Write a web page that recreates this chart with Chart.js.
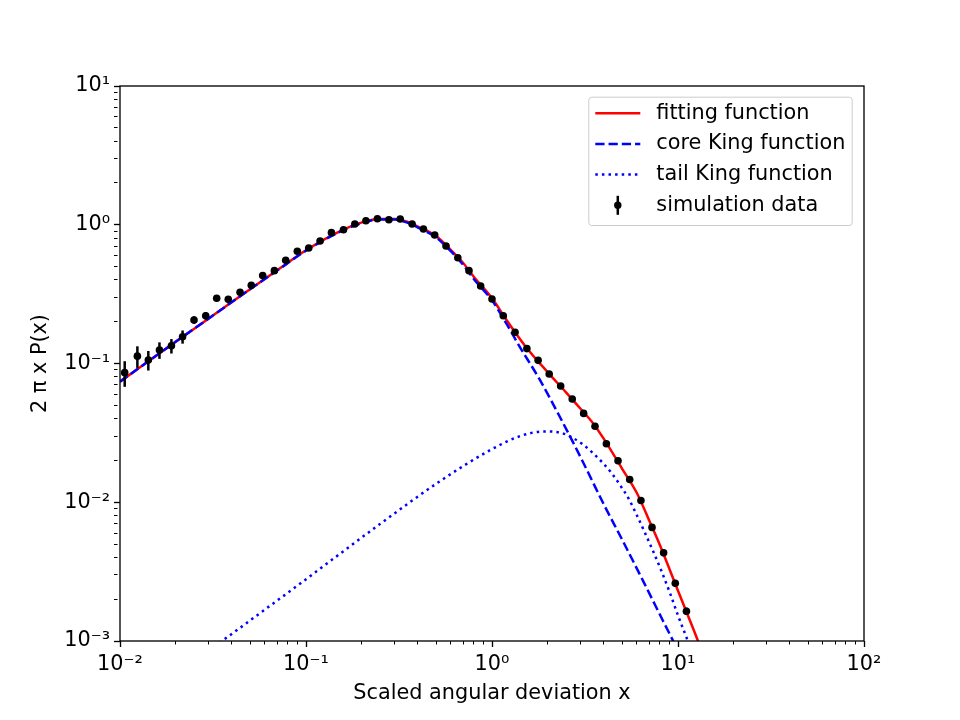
<!DOCTYPE html>
<html>
<head>
<meta charset="utf-8">
<script src="https://cdn.jsdelivr.net/npm/chart.js@4.4.0/dist/chart.umd.min.js"></script>
<style>
  html, body { margin: 0; padding: 0; background: #fff; }
  #wrap { width: 960px; height: 720px; }
</style>
</head>
<body>
<div id="wrap"><canvas id="c" width="960" height="720"></canvas></div>
<script>
// simulation points
const simX = [0.0106, 0.0124, 0.0142, 0.0163, 0.0189, 0.0217, 0.0250, 0.0289, 0.0331, 0.0382,
  0.0442, 0.0508, 0.0585, 0.0676, 0.0778, 0.0898, 0.1034, 0.119, 0.137, 0.159,
  0.183, 0.210, 0.242, 0.279, 0.321, 0.372, 0.428, 0.492, 0.566, 0.655,
  0.752, 0.869, 1.0, 1.15, 1.33, 1.54, 1.77, 2.03, 2.34, 2.70,
  3.11, 3.58, 4.12, 4.76, 5.50, 6.32, 7.25, 8.37, 9.67, 11.1];
const simY = [0.0859, 0.113, 0.106, 0.125, 0.134, 0.156, 0.206, 0.221, 0.295, 0.290,
  0.326, 0.366, 0.430, 0.467, 0.554, 0.644, 0.680, 0.764, 0.877, 0.921,
  1.012, 1.069, 1.106, 1.087, 1.10, 1.012, 0.932, 0.843, 0.703, 0.579,
  0.467, 0.362, 0.292, 0.221, 0.168, 0.128, 0.1054, 0.084, 0.0688, 0.0555,
  0.0437, 0.0353, 0.0264, 0.0199, 0.0146, 0.0103, 0.00659, 0.00432, 0.00261, 0.00164];
const simErr = [0.018, 0.020, 0.017, 0.017, 0.016, 0.017, 0.013, 0.014, 0.012, 0.012,
  0.011, 0.011, 0.011, 0.011, 0.011, 0.011, 0.011, 0.011, 0.011, 0.011,
  0.011, 0.011, 0.011, 0.011, 0.011, 0.010, 0.010, 0.009, 0.009, 0.008,
  0.007, 0.006, 0.005, 0.005, 0.004, 0.003, 0.003, 0.002, 0.002, 0.0016,
  0.0014, 0.0012, 0.001, 0.0008, 0.0006, 0.0005, 0.0003, 0.0002, 0.00015, 0.0001];

// fitting function
const fitX = [0.01, 0.02, 0.03, 0.05, 0.07, 0.1, 0.15, 0.2, 0.25, 0.3, 0.35, 0.4, 0.5, 0.6, 0.7, 0.8,
  1.0, 1.2, 1.5, 2.0, 2.5, 3.0, 3.5, 4.0, 5.0, 6.0, 7.0, 8.0, 10, 12, 13];
const fitY = [0.074, 0.144, 0.211, 0.343, 0.47, 0.655, 0.89, 1.04, 1.10, 1.10, 1.05, 0.97, 0.83, 0.66, 0.53, 0.42,
  0.295, 0.205, 0.135, 0.086, 0.062, 0.047, 0.037, 0.0285, 0.0175, 0.0117, 0.0074, 0.0049, 0.0023, 0.00125, 0.00095];

// core King function
const coreX = [0.01, 0.02, 0.03, 0.05, 0.07, 0.1, 0.15, 0.2, 0.25, 0.3, 0.35, 0.4, 0.5, 0.6, 0.7, 0.8,
  1.0, 1.2, 1.4, 1.8, 2.3, 3.0, 4.0, 5.0, 6.5, 8.3, 10, 12];
const coreY = [0.074, 0.144, 0.211, 0.343, 0.468, 0.65, 0.88, 1.03, 1.09, 1.09, 1.035, 0.955, 0.81, 0.645, 0.515, 0.405,
  0.285, 0.192, 0.134, 0.077, 0.042, 0.021, 0.0096, 0.0054, 0.0027, 0.0014, 0.00085, 0.0005];

// tail King function
const tailX = [0.03, 0.094, 0.25, 0.53, 0.98, 1.42, 1.9, 2.34, 2.74, 3.1, 3.5, 3.96, 4.4, 4.88,
  5.41, 6.0, 6.65, 7.37, 8.17, 9.06, 10.05, 11.14, 12.5];
const tailY = [0.00085, 0.00262, 0.00697, 0.0143, 0.0238, 0.030, 0.0324, 0.0317, 0.0289, 0.0259, 0.0225, 0.0191, 0.0162, 0.0133,
  0.0107, 0.0081, 0.006, 0.0044, 0.00316, 0.00221, 0.0015, 0.00105, 0.00068];

const xMajor = [0.01, 0.1, 1, 10, 100];
const xTickLabels = ['10⁻²', '10⁻¹', '10⁰', '10¹', '10²'];
const yMajor = [0.001, 0.01, 0.1, 1, 10];
const yTickLabels = ['10⁻³', '10⁻²', '10⁻¹', '10⁰', '10¹'];
const seriesNames = ['simulation data', 'tail King function', 'core King function', 'fitting function'];
const xTitle = 'Scaled angular deviation x';
const yTitle = '2 π x P(x)';

const FS = 20.8;
const FONT = 'DejaVu Sans';
Chart.defaults.font.family = FONT;
Chart.defaults.font.size = FS;
Chart.defaults.color = '#000';

const pts = (xs, ys) => xs.map((x, i) => ({ x, y: ys[i] }));

function logTicks(major) {
  const out = [];
  major.forEach((d, k) => {
    out.push({ value: d, major: true });
    if (k < major.length - 1) {
      for (let m = 2; m < 10; m++) out.push({ value: +(m * d).toPrecision(3), major: false });
    }
  });
  return out;
}
const majorIndex = (major, v) => major.findIndex(d => Math.abs(v - d) <= d * 1e-6);

const gridOpts = {
  display: true,
  drawOnChartArea: false,
  drawTicks: true,
  tickLength: 6,
  lineWidth: 1,
  tickColor: '#000',
  tickWidth: c => (c.tick && c.tick.major) ? 1.33 : 1,
  tickBorderDash: c => (c.tick && c.tick.major) ? [] : [3.5, 30],
};

const errorBars = {
  id: 'errorBars',
  afterDatasetsDraw(chart) {
    const { ctx, chartArea: a, scales: { x, y } } = chart;
    ctx.save();
    ctx.beginPath();
    ctx.rect(a.left, a.top, a.right - a.left, a.bottom - a.top);
    ctx.clip();
    ctx.strokeStyle = '#000';
    ctx.lineWidth = 2.5;
    simX.forEach((v, i) => {
      const px = x.getPixelForValue(v);
      ctx.beginPath();
      ctx.moveTo(px, y.getPixelForValue(simY[i] - simErr[i]));
      ctx.lineTo(px, y.getPixelForValue(simY[i] + simErr[i]));
      ctx.stroke();
    });
    ctx.restore();
  }
};

const frame = {
  id: 'frame',
  afterDraw(chart) {
    const { ctx, chartArea: a } = chart;
    ctx.save();
    ctx.strokeStyle = '#000';
    ctx.lineWidth = 1.33;
    ctx.strokeRect(a.left, a.top, a.right - a.left, a.bottom - a.top);
    ctx.restore();
  }
};

const boxLegend = {
  id: 'boxLegend',
  afterDraw(chart) {
    const { ctx, chartArea: a } = chart;
    const ds = chart.data.datasets;
    const bx = a.right - 275.7, by = a.top + 10.7, bw = 263.4, bh = 128.3;
    ctx.save();
    ctx.beginPath();
    if (ctx.roundRect) ctx.roundRect(bx + 0.5, by + 0.5, bw, bh, 3);
    else ctx.rect(bx + 0.5, by + 0.5, bw, bh);
    ctx.fillStyle = 'rgba(255,255,255,0.8)';
    ctx.fill();
    ctx.strokeStyle = '#cccccc';
    ctx.lineWidth = 1;
    ctx.stroke();

    const order = [3, 2, 1, 0];
    const h0 = bx + 7, h1 = bx + 52, tx = bx + 68;
    order.forEach((di, r) => {
      const yy = by + 16.5 + r * 30.7;
      const d = ds[di];
      if (di === 0) {
        const cx = (h0 + h1) / 2;
        ctx.setLineDash([]);
        ctx.strokeStyle = '#000';
        ctx.lineWidth = 2.5;
        ctx.beginPath();
        ctx.moveTo(cx, yy - 9.5);
        ctx.lineTo(cx, yy + 9.5);
        ctx.stroke();
        ctx.fillStyle = '#000';
        ctx.beginPath();
        ctx.arc(cx, yy, 3.7, 0, Math.PI * 2);
        ctx.fill();
      } else {
        ctx.setLineDash(d.borderDash || []);
        ctx.strokeStyle = d.borderColor;
        ctx.lineWidth = d.borderWidth;
        ctx.beginPath();
        ctx.moveTo(h0, yy);
        ctx.lineTo(h1, yy);
        ctx.stroke();
      }
      ctx.setLineDash([]);
      ctx.fillStyle = '#000';
      ctx.font = FS + 'px "' + FONT + '"';
      ctx.textBaseline = 'middle';
      ctx.textAlign = 'left';
      ctx.fillText(d.label, tx, yy);
    });
    ctx.restore();
  }
};

new Chart(document.getElementById('c').getContext('2d'), {
  type: 'line',
  data: {
    datasets: [
      {
        label: seriesNames[0],
        data: pts(simX, simY),
        showLine: false,
        pointRadius: 3.8,
        pointBackgroundColor: '#000',
        pointBorderWidth: 0,
        borderColor: '#000',
      },
      {
        label: seriesNames[1],
        data: pts(tailX, tailY),
        borderColor: '#0000ff',
        borderWidth: 2.5,
        borderDash: [2.5, 4.1],
        pointRadius: 0,
        cubicInterpolationMode: 'monotone',
        clip: 0,
      },
      {
        label: seriesNames[2],
        data: pts(coreX, coreY),
        borderColor: '#0000ff',
        borderWidth: 2.5,
        borderDash: [9.25, 4],
        pointRadius: 0,
        cubicInterpolationMode: 'monotone',
        clip: 0,
      },
      {
        label: seriesNames[3],
        data: pts(fitX, fitY),
        borderColor: '#ff0000',
        borderWidth: 2.5,
        pointRadius: 0,
        cubicInterpolationMode: 'monotone',
        clip: 0,
      },
    ],
  },
  options: {
    responsive: false,
    animation: false,
    layout: { padding: { left: 0, right: 96, top: 86, bottom: 0 } },
    plugins: { legend: { display: false }, tooltip: { enabled: false } },
    scales: {
      x: {
        type: 'logarithmic',
        min: 0.01,
        max: 100,
        afterBuildTicks: s => { s.ticks = logTicks(xMajor); },
        afterFit: s => { s.height = 79; },
        border: { display: false },
        grid: gridOpts,
        ticks: {
          autoSkip: false, maxRotation: 0, padding: 5, color: '#000',
          callback: v => { const k = majorIndex(xMajor, v); return k < 0 ? '' : xTickLabels[k]; },
        },
        title: { display: true, text: xTitle, color: '#000', padding: { top: 0, bottom: 13.5 } },
      },
      y: {
        type: 'logarithmic',
        min: 0.001,
        max: 10,
        afterBuildTicks: s => { s.ticks = logTicks(yMajor); },
        afterFit: s => { s.width = 120; },
        border: { display: false },
        grid: gridOpts,
        ticks: {
          autoSkip: false, padding: 4, color: '#000',
          callback: v => { const k = majorIndex(yMajor, v); return k < 0 ? '' : yTickLabels[k]; },
        },
        title: { display: true, text: yTitle, color: '#000', padding: { top: 28.5, bottom: 0 } },
      },
    },
  },
  plugins: [errorBars, frame, boxLegend],
});
</script>
</body>
</html>
